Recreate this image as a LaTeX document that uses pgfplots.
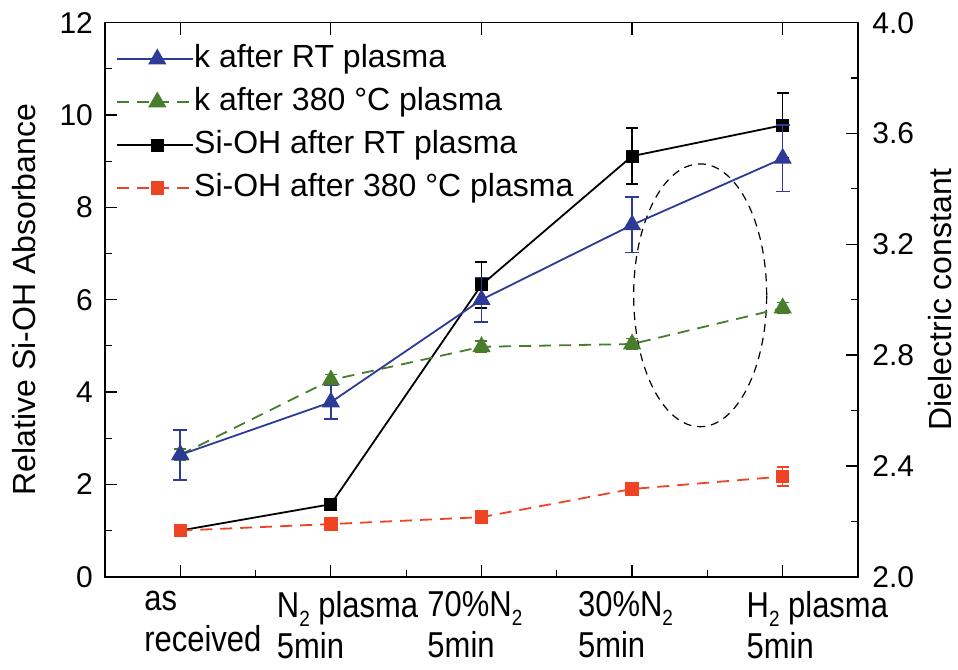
\documentclass[border=0pt]{standalone}
\usepackage{fontspec}
\setmainfont{Liberation Sans}
\newfontfamily\tallfont{Liberation Sans}[FakeStretch=0.86]
\usepackage{pgfplots}
\usepackage{pgfplotstable}
\pgfplotsset{compat=1.18}

\definecolor{kblue}{RGB}{45,58,150}
\definecolor{kgreen}{RGB}{72,125,45}
\definecolor{sred}{RGB}{238,68,36}

\newcommand{\sub}[1]{\raisebox{-0.25em}{\fontsize{11}{11}\selectfont #1}}

% Relative Si-OH absorbance (left axis): x, value, error
\pgfplotstableread{
x y e
0 1.00 0.00
1 1.57 0.04
2 6.32 0.50
3 9.11 0.61
4 9.78 0.70
}\siohRT
\pgfplotstableread{
x y e
0 1.00 0.00
1 1.14 0.03
2 1.29 0.04
3 1.90 0.12
4 2.17 0.20
}\siohHot
% Dielectric constant (right axis)
\pgfplotstableread{
x y e
0 2.44 0.09
1 2.63 0.06
2 3.00 0.08
3 3.27 0.10
4 3.51 0.12
}\kRT
\pgfplotstableread{
x y e
0 2.44 0.02
1 2.71 0.02
2 2.83 0.02
3 2.84 0.02
4 2.97 0.02
}\kHot

\pgfplotsset{
  base/.style={
    scale only axis, width=376.5pt, height=277pt,
    xmin=-0.5, xmax=4.5,
    tick align=inside,
    major tick length=6pt, minor tick length=3.5pt,
    every tick/.style={black, line width=0.6pt},
    axis line style={line width=0.8pt},
    /pgf/number format/assume math mode=true,
    yticklabel style={font=\fontsize{15}{18}\selectfont},
  },
  kRTs/.style={color=kblue, line width=0.9pt, mark=triangle*, mark size=4.4pt, mark options={solid}},
  kHots/.style={color=kgreen, line width=0.9pt, dash pattern=on 6pt off 4pt, mark=triangle*, mark size=4.4pt, mark options={solid}},
  sRTs/.style={color=black, line width=0.9pt, mark=square*, mark size=2.8pt, mark options={solid}},
  sHots/.style={color=sred, line width=0.9pt, dash pattern=on 6pt off 4pt, mark=square*, mark size=2.9pt, mark options={solid}},
  ebar/.style={error bars/.cd, y dir=both, y explicit,
    error bar style={line width=0.8pt, solid},
    error mark options={rotate=90, mark size=#1, line width=0.8pt, solid}},
}

\begin{document}
\begin{tikzpicture}
\begin{axis}[base, name=main,
  ymin=0, ymax=12, ytick={0,2,...,12}, minor ytick={1,3,5,7,9,11},
  ytick pos=left,
  yticklabel style={xshift=-2.5pt},
  xtick pos=left,
  xtick={1,2,3},
  xticklabels={{N\sub{2} plasma\\5min},{70\%N\sub{2}\\5min},{30\%N\sub{2}\\5min}},
  minor xtick={0.5,1.5,2.5,3.5},
  extra x ticks={0,4},
  extra x tick labels={{as\\received},{H\sub{2} plasma\\5min}},
  xticklabel style={font=\tallfont\fontsize{18}{20.5}\selectfont, align=left, anchor=north west,
    inner sep=0pt, xshift=-27.2pt, yshift=-7pt},
  extra x tick style={xticklabel style={xshift=9pt}},
  ylabel={Relative Si-OH Absorbance},
  ylabel style={at={([xshift=-40.5pt]axis description cs:0,0.5)}, anchor=center, font=\fontsize{16}{19}\selectfont},
  legend style={at={([xshift=2.5pt,yshift=-8pt]axis description cs:0,1)}, anchor=north west,
    draw=none, fill=none, font=\fontsize{16}{19}\selectfont,
    nodes={inner sep=0pt, text height=12pt, text depth=4pt}, row sep=5.5pt,
    column sep=0pt},
  legend cell align=left,
  legend image code/.code={\draw[mark repeat=2, mark phase=2, #1] plot coordinates {(0pt,0pt) (20pt,0pt) (38pt,0pt)};},
]
\addlegendimage{kRTs}
\addlegendentry{k after RT plasma}
\addlegendimage{kHots}
\addlegendentry{k after 380 °C plasma}
\addplot[sRTs, ebar=3pt] table[x=x, y=y, y error=e] {\siohRT};
\addlegendentry{Si-OH after RT plasma}
\addplot[sHots, ebar=3pt] table[x=x, y=y, y error=e] {\siohHot};
\addlegendentry{Si-OH after 380 °C plasma}
% dashed ellipse grouping the last two treatments
\draw[black, line width=0.6pt, dash pattern=on 4pt off 3pt] (axis cs:3.452,6.095) ellipse [x radius=33.25pt, y radius=65.7pt];
\end{axis}

\begin{axis}[base,
  ymin=2, ymax=4,
  ytick={2.0,2.4,2.8,3.2,3.6,4.0},
  yticklabels={2.0,2.4,2.8,3.2,3.6,4.0},
  minor ytick={2.2,2.6,3.0,3.4,3.8},
  ytick pos=right, yticklabel pos=right,
  yticklabel style={inner sep=1pt, xshift=6pt},
  xtick={0,1,2,3,4}, xticklabels={}, xtick pos=right,
  ylabel={Dielectric constant},
  ylabel style={at={([xshift=41pt]axis description cs:1,0.5)}, anchor=center, rotate=0, font=\fontsize{16}{19}\selectfont},
]
\addplot[kHots, ebar=3pt] table[x=x, y=y, y error=e] {\kHot};
\addplot[kRTs, ebar=3.5pt] table[x=x, y=y, y error=e] {\kRT};
\end{axis}

\pgfresetboundingbox
\path ([xshift=-52.5pt,yshift=-46.15pt]main.south west) rectangle ([xshift=50pt,yshift=11.35pt]main.north east);
\end{tikzpicture}
\end{document}
